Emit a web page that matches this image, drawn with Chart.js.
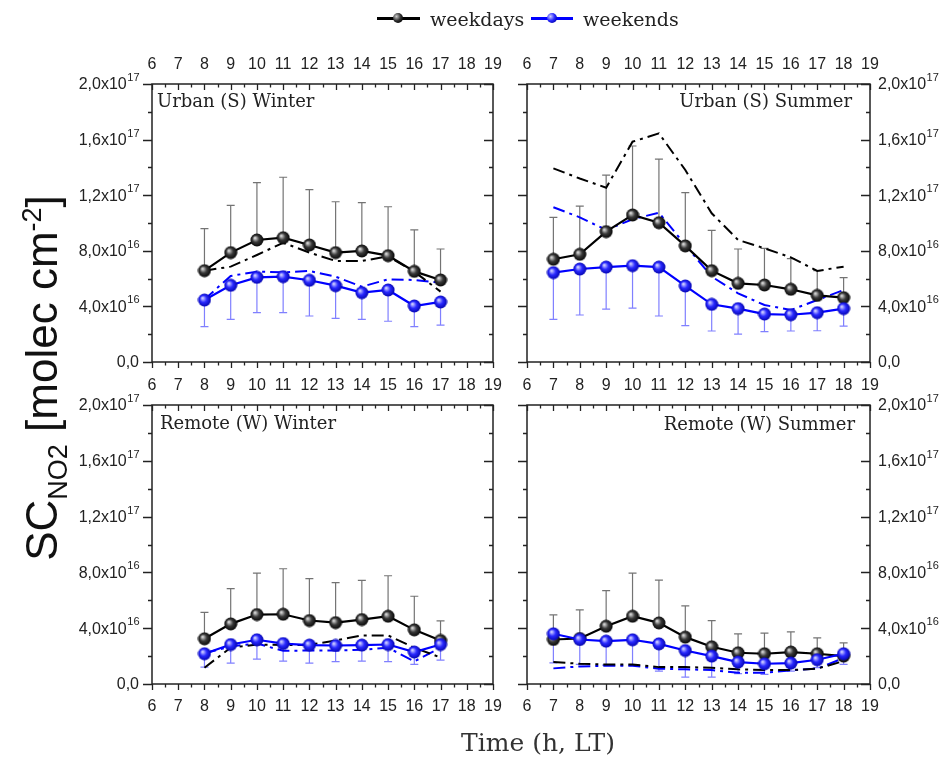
<!DOCTYPE html>
<html>
<head>
<meta charset="utf-8">
<title>SC NO2 diurnal cycles</title>
<script src="https://cdn.jsdelivr.net/npm/chart.js@4.4.0/dist/chart.umd.min.js"></script>
<style>
  body { margin: 0; background: #fff; }
  #wrap { position: relative; width: 947px; height: 758px; overflow: hidden; background: #fff; }
  #wrap canvas { position: absolute; left: 0; top: 0; }
  .txt { position: absolute; white-space: nowrap; line-height: 1; transform: translateY(-50%); z-index: 5;
         font-family: "DejaVu Serif", serif; color: #222; }
  .panel { font-size: 18px; }
  .legline { position: absolute; height: 2.5px; z-index: 5; }
  .ball { position: absolute; width: 10px; height: 10px; border-radius: 50%; z-index: 6; }
  #ytitle { position: absolute; left: -218px; top: 353px; width: 500px; height: 50px; line-height: 50px;
            text-align: center; transform: rotate(-90deg); font-family: "Liberation Sans", Arial, sans-serif;
            font-size: 44px; color: #111; z-index: 5; white-space: nowrap; }
  #ytitle sub { font-size: 27px; vertical-align: -10px; }
  #ytitle sup { font-size: 27px; vertical-align: 16px; }
</style>
</head>
<body>
<div id="wrap">
  <canvas id="c1" width="947" height="758"></canvas>
  <canvas id="c2" width="947" height="758"></canvas>
  <canvas id="c3" width="947" height="758"></canvas>
  <canvas id="c4" width="947" height="758"></canvas>

  <!-- legend -->
  <div class="legline" style="left:377px;top:17px;width:43px;background:#000;"></div>
  <div class="ball" style="left:393px;top:13px;background:radial-gradient(circle at 35% 35%, #ccc, #333 45%, #000 80%);"></div>
  <div class="txt" style="left:430px;top:19px;font-size:19px;">weekdays</div>
  <div class="legline" style="left:531px;top:17px;width:42px;background:#0000ff;"></div>
  <div class="ball" style="left:547px;top:13px;background:radial-gradient(circle at 35% 35%, #ccf, #2a2aff 45%, #0000b0 80%);"></div>
  <div class="txt" style="left:583px;top:19px;font-size:19px;">weekends</div>

  <!-- panel names -->
  <div class="txt panel" style="left:157px;top:101px;">Urban (S) Winter</div>
  <div class="txt panel" style="right:95px;top:101px;">Urban (S) Summer</div>
  <div class="txt panel" style="left:160px;top:423px;">Remote (W) Winter</div>
  <div class="txt panel" style="right:92px;top:424px;">Remote (W) Summer</div>

  <!-- axis titles -->
  <div id="ytitle">SC<sub>NO2</sub> [molec cm<sup>-2</sup>]</div>
  <div class="txt" style="left:0;width:1076px;text-align:center;top:742px;font-size:25px;color:#333;">Time (h, LT)</div>
</div>

<script>
// hours shown on the x axes, values in units of 1e16 molec cm-2
const xTickHours = [6, 7, 8, 9, 10, 11, 12, 13, 14, 15, 16, 17, 18, 19];
const yTickValues = [0, 4, 8, 12, 16, 20];

// Urban (S) Winter
const usWinterHours = [8, 9, 10, 11, 12, 13, 14, 15, 16, 17];
const usWinterWeekdays = [6.57, 7.87, 8.78, 8.94, 8.42, 7.87, 7.99, 7.65, 6.52, 5.9];
const usWinterWeekdaysUpper = [9.59, 11.27, 12.9, 13.29, 12.4, 11.53, 11.46, 11.17, 9.5, 8.13];
const usWinterWeekends = [4.46, 5.52, 6.09, 6.14, 5.88, 5.49, 4.99, 5.18, 4.03, 4.32];
const usWinterWeekendsLower = [2.54, 3.07, 3.55, 3.55, 3.31, 3.14, 3.07, 2.93, 2.54, 2.66];
const usWinterWeekdaysDashDot = [6.57, 6.86, 7.7, 8.58, 7.87, 7.27, 7.27, 7.6, 6.5, 5.06];
const usWinterWeekendsDashDot = [4.5, 6.19, 6.5, 6.45, 6.55, 6.14, 5.42, 5.95, 5.9, 5.7];

// Urban (S) Summer
const usSummerHours = [7, 8, 9, 10, 11, 12, 13, 14, 15, 16, 17, 18];
const usSummerWeekdays = [7.39, 7.75, 9.38, 10.58, 10.02, 8.35, 6.57, 5.66, 5.54, 5.23, 4.79, 4.63];
const usSummerWeekdaysUpper = [10.41, 11.22, 13.45, 15.54, 14.6, 12.18, 9.47, 8.13, 8.18, 7.43, 6.57, 6.07];
const usSummerWeekends = [6.43, 6.69, 6.83, 6.93, 6.83, 5.47, 4.15, 3.84, 3.45, 3.4, 3.55, 3.84];
const usSummerWeekendsLower = [3.07, 3.38, 3.81, 3.88, 3.31, 2.61, 2.23, 2.01, 2.18, 2.23, 2.25, 2.58];
const usSummerWeekdaysDashDot = [13.93, 13.2, 12.54, 15.85, 16.45, 13.81, 10.7, 8.78, 8.18, 7.53, 6.55, 6.86];
const usSummerWeekendsDashDot = [11.13, 10.41, 9.5, 10.27, 10.74, 8.42, 6.14, 4.94, 4.1, 3.74, 4.46, 5.18];

// Remote (W) Winter
const rwWinterHours = [8, 9, 10, 11, 12, 13, 14, 15, 16, 17];
const rwWinterWeekdays = [3.24, 4.31, 4.98, 5.0, 4.55, 4.4, 4.62, 4.86, 3.88, 3.12];
const rwWinterWeekdaysUpper = [5.14, 6.83, 7.95, 8.26, 7.55, 7.26, 7.43, 7.76, 6.29, 4.52];
const rwWinterWeekends = [2.17, 2.83, 3.17, 2.9, 2.79, 2.76, 2.79, 2.83, 2.29, 2.83];
const rwWinterWeekendsLower = [1.21, 1.5, 1.79, 1.64, 1.5, 1.6, 1.64, 1.6, 1.4, 1.71];
const rwWinterWeekdaysDashDot = [1.17, 2.6, 2.83, 2.8, 2.8, 3.12, 3.48, 3.48, 2.6, 1.9];
const rwWinterWeekendsDashDot = [2.2, 2.7, 2.9, 2.38, 2.4, 2.4, 2.45, 2.6, 1.62, 2.6];

// Remote (W) Summer
const rwSummerHours = [7, 8, 9, 10, 11, 12, 13, 14, 15, 16, 17, 18];
const rwSummerWeekdays = [3.19, 3.26, 4.14, 4.86, 4.38, 3.36, 2.67, 2.24, 2.17, 2.29, 2.17, 2.0];
const rwSummerWeekdaysUpper = [4.95, 5.31, 6.69, 7.95, 7.45, 5.6, 4.55, 3.6, 3.64, 3.74, 3.31, 2.95];
const rwSummerWeekends = [3.6, 3.19, 3.07, 3.17, 2.88, 2.4, 2.0, 1.57, 1.45, 1.5, 1.74, 2.17];
const rwSummerWeekendsLower = [1.52, 1.4, 1.36, 1.36, 0.93, 0.5, 0.5, 0.74, 0.69, 0.93, 1.17, 1.4];
const rwSummerWeekdaysDashDot = [1.57, 1.45, 1.4, 1.4, 1.21, 1.21, 1.17, 1.05, 1.0, 1.0, 1.1, 1.64];
const rwSummerWeekendsDashDot = [1.12, 1.26, 1.31, 1.31, 1.1, 1.05, 1.0, 0.81, 0.81, 0.98, 1.1, 1.86];

// shaded sphere used as point marker
function makeBall(light, mid, dark) {
  const c = document.createElement('canvas');
  c.width = 14; c.height = 14;
  const g = c.getContext('2d');
  const grad = g.createRadialGradient(5, 5, 0.5, 7, 7, 7);
  grad.addColorStop(0, light);
  grad.addColorStop(0.45, mid);
  grad.addColorStop(1, dark);
  g.fillStyle = grad;
  g.beginPath();
  g.arc(7, 7, 6.5, 0, Math.PI * 2);
  g.fill();
  return c;
}
const blackBall = makeBall('#d8d8d8', '#3a3a3a', '#000');
const blueBall = makeBall('#d0d0ff', '#2a2aff', '#0000a8');

function pts(hours, vals) {
  return hours.map((h, i) => ({ x: h, y: vals[i] }));
}

function yLabelParts(v) {
  if (v === 0) return ['0,0', ''];
  const actual = v * 1e16;
  const exp = Math.floor(Math.log10(actual) + 1e-9);
  const mant = (actual / Math.pow(10, exp)).toFixed(1).replace('.', ',');
  return [mant + 'x10', String(exp)];
}

// error bars drawn behind the lines
const errorBars = {
  id: 'errorBars',
  beforeDatasetsDraw(chart) {
    const ctx = chart.ctx, xs = chart.scales.x, ys = chart.scales.y;
    chart.data.datasets.forEach(ds => {
      if (!ds.errorEnds) return;
      ctx.save();
      ctx.strokeStyle = ds.errorColor;
      ctx.lineWidth = 1.2;
      ds.data.forEach((p, i) => {
        const px = xs.getPixelForValue(p.x);
        const y0 = ys.getPixelForValue(p.y);
        const y1 = ys.getPixelForValue(ds.errorEnds[i]);
        ctx.beginPath();
        ctx.moveTo(px, y0); ctx.lineTo(px, y1);
        ctx.moveTo(px - 4, y1); ctx.lineTo(px + 4, y1);
        ctx.stroke();
      });
      ctx.restore();
    });
  }
};

// frame, ticks and tick labels
const frame = {
  id: 'frame',
  afterDraw(chart, args, opts) {
    const ctx = chart.ctx, a = chart.chartArea, xs = chart.scales.x, ys = chart.scales.y;
    ctx.save();
    ctx.strokeStyle = '#222';
    ctx.lineWidth = 1.5;
    ctx.strokeRect(a.left, a.top, a.right - a.left, a.bottom - a.top);

    ctx.lineWidth = 1.3;
    ctx.beginPath();
    for (let h = xTickHours[0]; h <= xTickHours[xTickHours.length - 1]; h += 0.5) {
      const px = Math.round(xs.getPixelForValue(h)) + 0.5;
      const len = Number.isInteger(h) ? 6 : 3.5;
      ctx.moveTo(px, a.top); ctx.lineTo(px, a.top + len);
      ctx.moveTo(px, a.bottom); ctx.lineTo(px, a.bottom + len);
    }
    for (let v = yTickValues[0]; v <= yTickValues[yTickValues.length - 1]; v += 2) {
      const py = Math.round(ys.getPixelForValue(v)) + 0.5;
      const len = v % 4 === 0 ? 9 : 4;
      ctx.moveTo(a.left - len, py); ctx.lineTo(a.left, py);
      ctx.moveTo(a.right - len, py); ctx.lineTo(a.right, py);
    }
    ctx.stroke();

    ctx.fillStyle = '#222';
    ctx.font = '16px "Liberation Sans", Arial, sans-serif';
    ctx.textAlign = 'center';
    ctx.textBaseline = 'middle';
    xTickHours.forEach(h => {
      const px = xs.getPixelForValue(h);
      if (opts.topLabels) ctx.fillText(String(h), px, a.top - 19);
      if (opts.bottomLabels) ctx.fillText(String(h), px, a.bottom + 23);
    });

    ctx.textAlign = 'left';
    yTickValues.forEach(v => {
      const py = ys.getPixelForValue(v);
      const [base, sup] = yLabelParts(v);
      ctx.font = '16px "Liberation Sans", Arial, sans-serif';
      const wb = ctx.measureText(base).width;
      ctx.font = '11px "Liberation Sans", Arial, sans-serif';
      const wsup = sup ? ctx.measureText(sup).width : 0;
      const x0 = opts.yLabels === 'left' ? a.left - 13 - wb - wsup : a.right + 8;
      ctx.font = '16px "Liberation Sans", Arial, sans-serif';
      ctx.fillText(base, x0, py + 1);
      if (sup) {
        ctx.font = '11px "Liberation Sans", Arial, sans-serif';
        ctx.fillText(sup, x0 + wb + 0.5, py - 6);
      }
    });
    ctx.restore();
  }
};

function makePanel(id, pad, hours, wd, wdUp, we, weLo, wdDD, weDD, frameOpts) {
  return new Chart(document.getElementById(id).getContext('2d'), {
    type: 'line',
    data: {
      datasets: [
        {
          label: 'weekends',
          data: pts(hours, we),
          borderColor: '#0000ff',
          borderWidth: 2.2,
          pointStyle: blueBall,
          pointRadius: 6,
          errorEnds: weLo,
          errorColor: 'rgba(60,60,255,0.65)'
        },
        {
          label: 'weekdays',
          data: pts(hours, wd),
          borderColor: '#000',
          borderWidth: 2.2,
          pointStyle: blackBall,
          pointRadius: 6,
          errorEnds: wdUp,
          errorColor: 'rgba(0,0,0,0.55)'
        },
        {
          label: 'weekdays (dash-dot)',
          data: pts(hours, wdDD),
          borderColor: '#000',
          borderWidth: 2,
          borderDash: [12, 5, 3, 5],
          pointRadius: 0
        },
        {
          label: 'weekends (dash-dot)',
          data: pts(hours, weDD),
          borderColor: '#0000ff',
          borderWidth: 2,
          borderDash: [12, 5, 3, 5],
          pointRadius: 0
        }
      ]
    },
    options: {
      responsive: false,
      animation: false,
      events: [],
      layout: { padding: pad },
      plugins: {
        legend: { display: false },
        tooltip: { enabled: false },
        frame: frameOpts
      },
      scales: {
        x: { type: 'linear', min: 6, max: 19, display: false },
        y: { min: 0, max: 20, display: false }
      }
    },
    plugins: [errorBars, frame]
  });
}

makePanel('c1', { left: 152, right: 454, top: 84, bottom: 396 },
  usWinterHours, usWinterWeekdays, usWinterWeekdaysUpper, usWinterWeekends, usWinterWeekendsLower,
  usWinterWeekdaysDashDot, usWinterWeekendsDashDot, { yLabels: 'left', topLabels: true, bottomLabels: false });

makePanel('c2', { left: 527, right: 77, top: 84, bottom: 396 },
  usSummerHours, usSummerWeekdays, usSummerWeekdaysUpper, usSummerWeekends, usSummerWeekendsLower,
  usSummerWeekdaysDashDot, usSummerWeekendsDashDot, { yLabels: 'right', topLabels: true, bottomLabels: false });

makePanel('c3', { left: 152, right: 454, top: 405, bottom: 74 },
  rwWinterHours, rwWinterWeekdays, rwWinterWeekdaysUpper, rwWinterWeekends, rwWinterWeekendsLower,
  rwWinterWeekdaysDashDot, rwWinterWeekendsDashDot, { yLabels: 'left', topLabels: true, bottomLabels: true });

makePanel('c4', { left: 527, right: 77, top: 405, bottom: 74 },
  rwSummerHours, rwSummerWeekdays, rwSummerWeekdaysUpper, rwSummerWeekends, rwSummerWeekendsLower,
  rwSummerWeekdaysDashDot, rwSummerWeekendsDashDot, { yLabels: 'right', topLabels: true, bottomLabels: true });
</script>
</body>
</html>
